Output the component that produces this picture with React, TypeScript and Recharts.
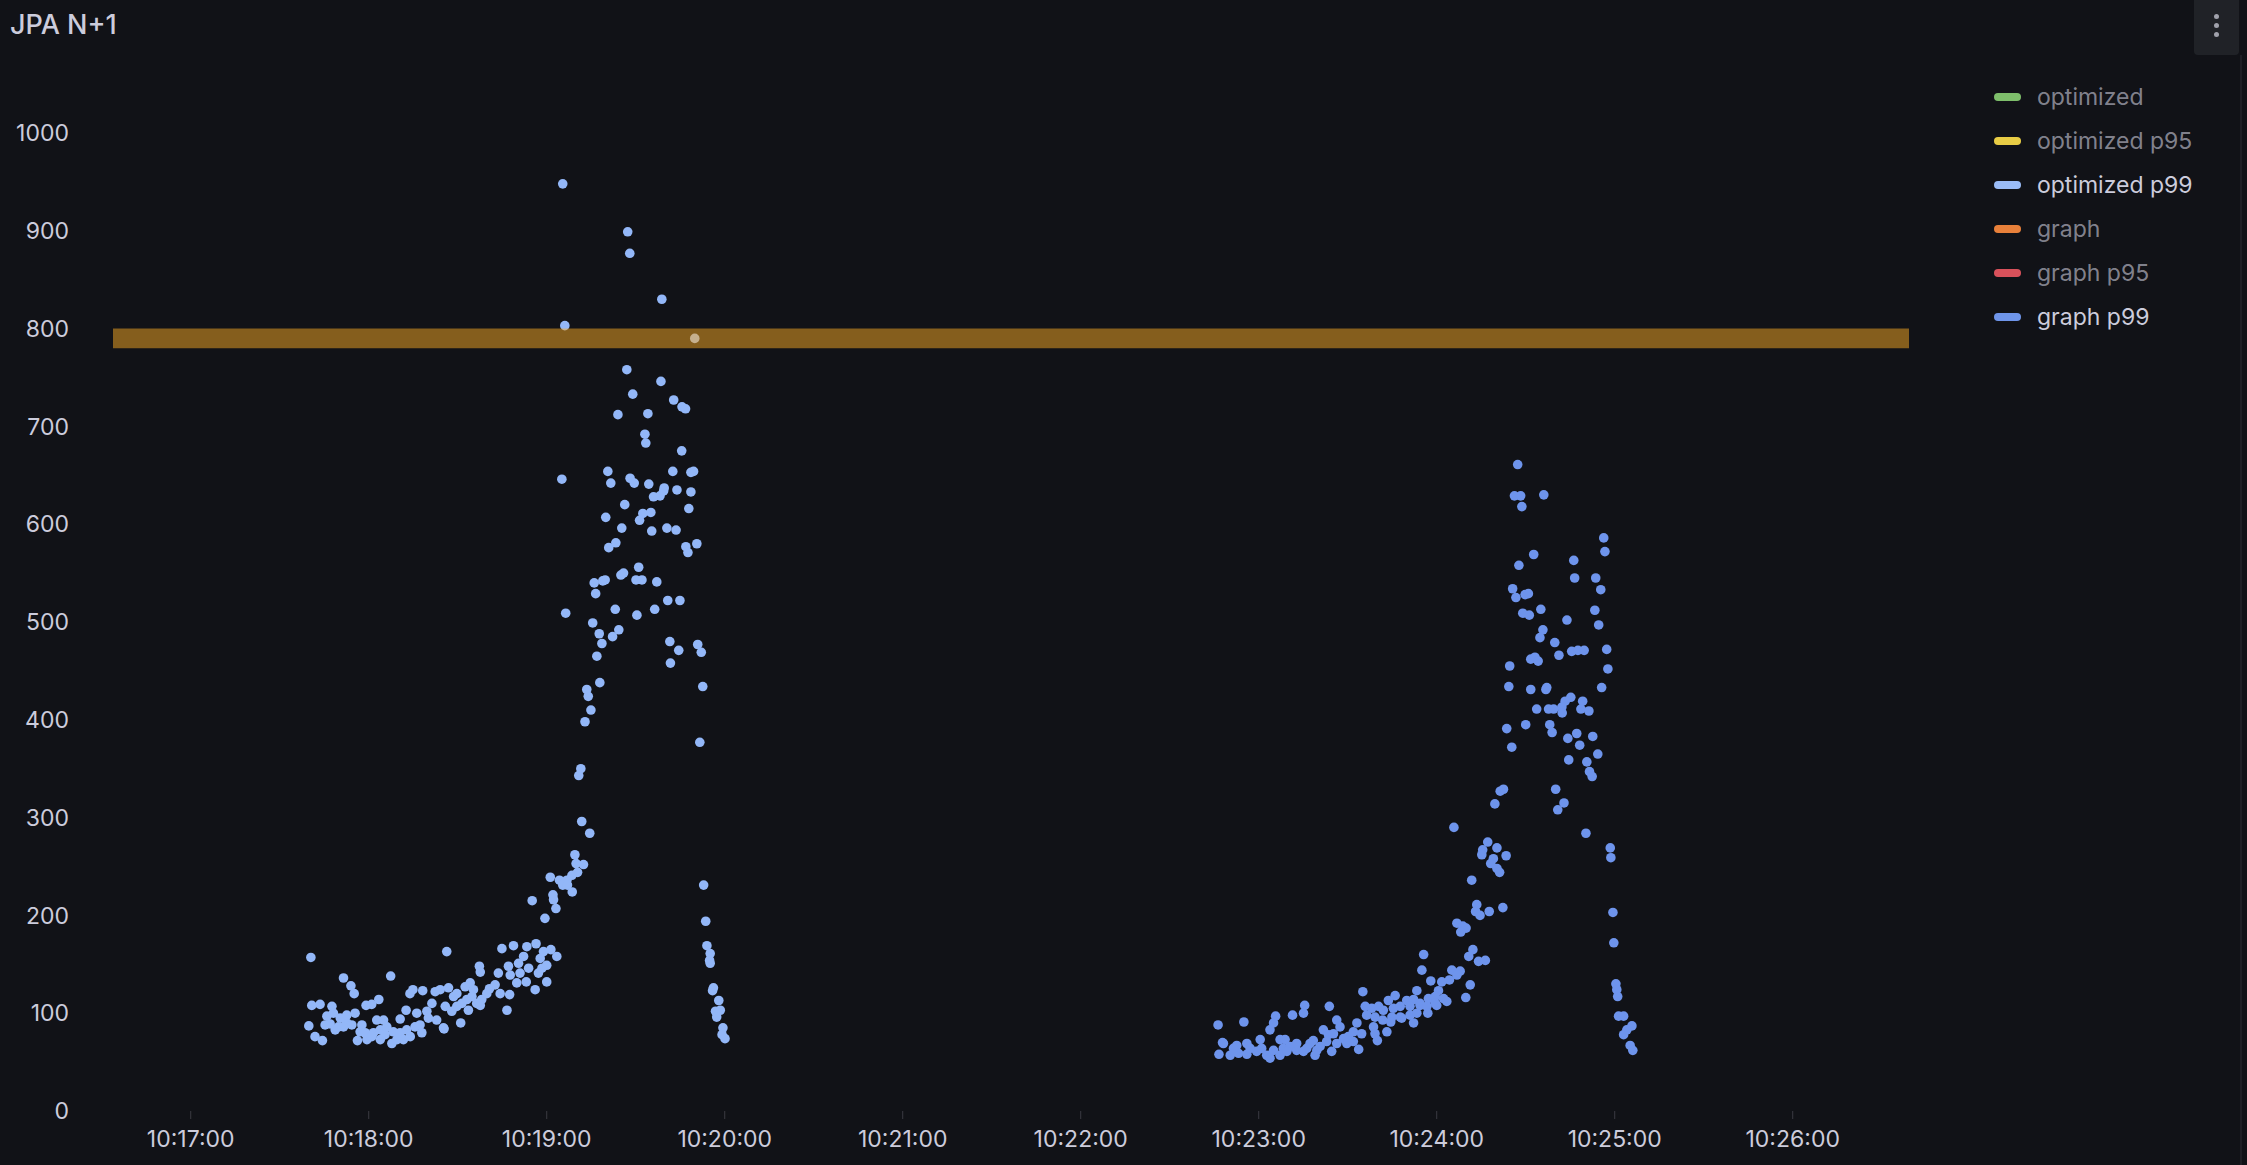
import React from 'react';
import { ScatterChart, Scatter, XAxis, YAxis, ReferenceArea } from 'recharts';

// ---------- data ----------
const TITLE = 'JPA N+1';
// x values are seconds after 10:17:00
const xTickSeconds = [0, 60, 120, 180, 240, 300, 360, 420, 480, 540];
const xTickLabels = ['10:17:00', '10:18:00', '10:19:00', '10:20:00', '10:21:00', '10:22:00', '10:23:00', '10:24:00', '10:25:00', '10:26:00'];
const xDomain = [-26.2, 579.2];
const yTicks = [0, 100, 200, 300, 400, 500, 600, 700, 800, 900, 1000];
const yDomain = [0, 1000];
const bandLow = 780;
const bandHigh = 800;

const legendNames = ['optimized', 'optimized p95', 'optimized p99', 'graph', 'graph p95', 'graph p99'];
const legendColors = ['#7EBE6B', '#E8CC45', '#9ABCF7', '#E8803A', '#D9515B', '#6F95EA'];
const legendVisible = [false, false, true, false, false, true];

const optimizedP99: [number, number][] = [
  [125.4, 948], [147.3, 899], [148.0, 877], [158.8, 830], [126.1, 803], [169.9, 790], [147.0, 758], [158.5, 746],
  [149.0, 733], [162.8, 727], [165.6, 720], [166.8, 718], [144.0, 712], [154.1, 713], [153.1, 692], [153.4, 683],
  [165.5, 675], [140.6, 654], [141.6, 642], [148.1, 647], [149.5, 642], [154.4, 641], [159.6, 637], [159.4, 634],
  [162.5, 654], [169.5, 654], [168.6, 653], [163.9, 635], [168.6, 633], [156.0, 628], [158.2, 629], [125.1, 646],
  [146.3, 620], [167.9, 616], [139.9, 607], [152.4, 611], [155.1, 612], [151.3, 604], [145.3, 596], [155.4, 593],
  [160.5, 596], [163.6, 594], [143.3, 581], [140.9, 576], [166.9, 577], [167.6, 571], [170.6, 580], [151.0, 556],
  [145.9, 550], [145.0, 548],
  [136.0, 540], [138.9, 542], [139.7, 543], [150.1, 543], [152.1, 543], [157.1, 541], [136.5, 529], [126.4, 509],
  [143.1, 513], [150.4, 507], [156.4, 513], [160.8, 522], [164.9, 522], [135.5, 499], [137.7, 488], [138.6, 478],
  [142.2, 485], [144.3, 492], [136.9, 465], [161.5, 480], [164.5, 471], [161.7, 458], [170.9, 477], [172.1, 469],
  [172.6, 434], [137.9, 438], [133.5, 431], [134.0, 424], [134.9, 410], [132.9, 398], [171.6, 377], [131.5, 350],
  [130.8, 343], [131.8, 296], [134.5, 284], [129.5, 262], [129.9, 253], [132.4, 252], [130.4, 244], [128.5, 241],
  [126.8, 236], [124.3, 236], [121.2, 239], [125.4, 231], [127.0, 231], [128.6, 224], [122.1, 221], [122.3, 216],
  [115.1, 215], [123.1, 207], [119.4, 197], [172.9, 231], [173.6, 194], [174.0, 169], [175.1, 161], [174.9, 154],
  [175.1, 151], [176.2, 126], [175.9, 123], [178.0, 113], [176.9, 102], [178.5, 103], [177.3, 96], [179.4, 85],
  [179.1, 78], [180.1, 74],
  [40.5, 157], [39.8, 87], [40.8, 108], [43.6, 109], [47.6, 107], [41.9, 76], [44.4, 72], [45.9, 97],
  [47.0, 89], [45.3, 88], [48.1, 100], [50.4, 95], [52.6, 90], [51.5, 136], [54.0, 128], [55.1, 120],
  [48.7, 83], [51.5, 86], [55.4, 100], [57.7, 88], [57.1, 81], [56.2, 72], [59.4, 73], [59.1, 108],
  [61.0, 109], [63.4, 114], [62.7, 93], [67.4, 138], [61.6, 80], [63.9, 83], [66.1, 86], [68.3, 81],
  [70.6, 80], [63.9, 73], [67.8, 69], [71.7, 73], [74.0, 76], [70.6, 94], [72.6, 103], [73.9, 120],
  [74.9, 124], [78.2, 123], [76.2, 100], [77.3, 88], [75.6, 86], [79.6, 102], [81.3, 110], [82.4, 122],
  [84.1, 124], [80.1, 95], [82.9, 93], [85.2, 85], [86.3, 163], [86.9, 126], [88.6, 117], [89.7, 120],
  [85.8, 107], [88.0, 102], [89.7, 107], [91.4, 110], [91.0, 90], [85.4, 84], [92.5, 127], [94.2, 131],
  [95.3, 124], [93.1, 114], [94.8, 117], [96.4, 110], [98.1, 114], [99.8, 120], [93.6, 103], [97.6, 108],
  [97.3, 148], [97.6, 142], [100.7, 125], [102.6, 129], [104.3, 120], [107.5, 119], [106.6, 103], [104.9, 166],
  [108.8, 169], [103.7, 141], [107.1, 148], [107.7, 139], [109.9, 131], [111.0, 141], [113.1, 132], [110.5, 151],
  [112.2, 158], [113.3, 168], [116.4, 171], [113.9, 146], [116.1, 124], [117.2, 141], [118.4, 146], [117.8, 156],
  [120.0, 149], [121.4, 165], [120.0, 132], [123.4, 158], [118.9, 163],
  [58.8, 80], [61.0, 76], [65.5, 78], [69.5, 73], [72.8, 83], [77.9, 80], [65.0, 93], [52.6, 98],
  [49.8, 86], [54.3, 88],
];

const graphP99: [number, number][] = [
  [447.3, 661], [446.2, 629], [448.3, 629], [456.1, 630], [448.7, 618], [476.3, 586], [476.7, 572], [452.7, 569],
  [447.7, 558], [466.2, 563], [466.5, 545], [473.6, 545], [475.3, 533], [445.6, 534], [446.7, 525], [449.8, 528],
  [450.9, 529], [449.0, 509], [451.2, 507], [455.1, 513], [463.9, 502], [473.3, 512], [474.6, 497], [455.8, 492],
  [454.8, 484], [459.8, 479], [461.2, 466], [465.5, 470], [467.6, 471], [469.7, 471], [477.3, 472], [451.7, 462],
  [453.1, 464], [454.2, 460], [444.6, 455], [477.7, 452], [444.3, 434], [451.7, 431], [456.8, 431], [457.1, 433],
  [475.6, 433], [465.2, 423], [463.3, 419], [462.2, 413], [469.2, 419], [453.7, 411], [457.7, 411], [459.4, 411],
  [462.3, 407], [468.6, 411], [471.3, 409], [443.6, 391], [450.0, 395], [458.1, 395], [458.9, 387], [464.2, 381],
  [467.2, 386], [472.6, 383], [468.2, 374], [445.3, 372], [474.3, 365],
  [464.5, 359], [470.6, 357], [471.5, 347], [472.4, 342], [442.5, 329], [441.4, 327], [439.6, 314], [460.1, 329],
  [462.9, 315], [460.8, 308], [425.8, 290], [470.3, 284], [437.2, 275], [440.3, 269], [443.4, 261], [435.5, 267],
  [435.2, 262], [439.1, 258], [438.2, 253], [440.3, 248], [441.2, 244], [478.5, 269], [478.7, 259], [431.8, 236],
  [433.5, 211], [433.1, 204], [434.6, 200], [437.7, 204], [442.3, 208], [479.4, 203], [426.8, 192], [428.8, 189],
  [429.9, 187], [428.1, 183], [479.7, 172], [415.6, 160], [432.2, 165], [430.8, 158], [434.1, 153], [436.4, 154],
  [415.0, 144], [425.1, 144], [427.9, 143], [426.8, 139], [424.3, 134], [421.7, 132], [431.3, 129], [429.8, 116],
  [418.0, 133], [413.3, 123], [420.6, 123], [480.4, 130], [480.7, 124], [481.0, 117], [481.3, 97], [483.0, 97],
  [485.8, 87], [484.1, 83], [483.0, 78], [485.2, 67], [486.1, 62],
  [395.1, 122], [406.0, 118], [403.7, 113], [409.9, 113], [412.2, 114], [414.4, 110], [417.2, 115], [419.5, 117],
  [422.3, 115], [423.4, 112], [395.9, 107], [398.1, 105], [400.4, 107], [402.0, 103], [405.4, 105], [407.7, 107],
  [411.0, 107], [414.4, 108], [416.7, 107], [419.5, 110], [396.4, 98], [399.2, 96], [401.8, 93], [404.9, 96],
  [407.7, 96], [411.0, 98], [413.3, 100], [417.0, 100], [420.0, 108], [404.5, 91], [408.2, 95], [412.2, 90],
  [398.7, 86], [399.2, 79], [400.0, 72], [403.2, 81], [393.7, 63], [393.1, 90], [394.7, 79], [391.9, 81],
  [390.2, 76], [388.6, 74], [386.3, 93], [387.4, 86], [383.8, 107], [381.8, 83], [383.5, 78], [385.2, 79],
  [384.6, 61], [386.3, 69], [389.7, 69], [391.9, 71], [375.5, 108], [375.1, 100], [371.4, 98], [365.7, 97],
  [365.0, 90], [363.8, 83], [355.0, 91], [346.3, 88], [347.8, 70], [348.1, 69], [346.6, 58], [350.4, 57],
  [352.6, 67], [356.0, 69], [360.5, 73], [353.2, 59], [356.0, 58], [359.3, 61], [362.7, 57], [363.8, 54],
  [367.2, 73], [368.9, 73], [368.3, 64], [370.6, 66], [372.8, 62], [375.1, 61], [377.3, 69], [378.4, 72],
  [379.6, 62], [380.7, 66], [379.0, 57], [367.2, 57], [357.1, 64], [361.0, 64], [365.0, 62], [369.5, 61],
  [372.8, 69], [376.2, 64], [382.9, 71], [351.5, 64],
];

// ---------- styling ----------
const BG = '#111217';
const TEXT = '#CCCCDC';
const TEXT_DIM = 'rgba(204,204,220,0.62)';
const FONT = 'Inter, "Noto Sans", sans-serif';
const POINT_COLORS = { optimized: '#93B7F8', graph: '#6E94EC' };

const toPoints = (arr: [number, number][]) => arr.map(([t, v]) => ({ t, v }));

const makeDot = (color: string) => (props: any) => {
  const { cx, cy } = props;
  if (cx == null || cy == null) return <g />;
  return <circle cx={cx} cy={cy} r={4.8} fill={color} />;
};

const fmtX = (v: number) => {
  const i = xTickSeconds.indexOf(v);
  return i >= 0 ? xTickLabels[i] : '';
};

export default function App() {
  return (
    <div style={{ position: 'absolute', left: 0, top: 0, width: 2247, height: 1165, background: BG, fontFamily: FONT, overflow: 'hidden' }}>
      <div style={{ position: 'absolute', left: 10, top: 11, fontSize: 27, lineHeight: '27px', fontWeight: 500, color: TEXT, whiteSpace: 'nowrap' }}>{TITLE}</div>

      {/* panel menu */}
      <div style={{ position: 'absolute', left: 2194, top: 0, width: 45, height: 55, background: '#202227', borderRadius: '0 0 4px 4px' }}>
        {[16, 25, 34].map((y) => (
          <div key={y} style={{ position: 'absolute', left: 20, top: y - 2.5, width: 5, height: 5, borderRadius: 3, background: '#A0A1AB' }} />
        ))}
      </div>
      <div style={{ position: 'absolute', left: 2240, top: 55, width: 2, height: 1110, background: '#1E1F25' }} />

      <div style={{ position: 'absolute', left: 0, top: 0 }}>
        <ScatterChart width={2247} height={1165} margin={{ top: 133, right: 338, bottom: 0, left: 0 }}>
          <XAxis
            dataKey="t"
            type="number"
            domain={xDomain}
            ticks={xTickSeconds}
            tickFormatter={fmtX}
            allowDataOverflow
            interval={0}
            axisLine={false}
            tickLine={{ stroke: 'rgba(204,204,220,0.22)' }}
            tickSize={8}
            tickMargin={12}
            height={54}
            tick={{ fill: TEXT, fontSize: 23, fontFamily: FONT }}
          />
          <YAxis
            dataKey="v"
            type="number"
            domain={yDomain}
            ticks={yTicks}
            allowDataOverflow
            interval={0}
            axisLine={false}
            tickLine={false}
            tickSize={0}
            tickMargin={44}
            width={113}
            tick={{ fill: TEXT, fontSize: 23, fontFamily: FONT }}
          />
          <Scatter name="optimized p99" data={toPoints(optimizedP99)} fill={POINT_COLORS.optimized} shape={makeDot(POINT_COLORS.optimized)} isAnimationActive={false} />
          <Scatter name="graph p99" data={toPoints(graphP99)} fill={POINT_COLORS.graph} shape={makeDot(POINT_COLORS.graph)} isAnimationActive={false} />
          <ReferenceArea y1={bandLow} y2={bandHigh} fill="#F9AA23" fillOpacity={0.5} stroke="none" ifOverflow="visible" zIndex={1000} />
        </ScatterChart>
      </div>

      {/* legend */}
      {legendNames.map((name, i) => (
        <div key={name} style={{ position: 'absolute', left: 1994, top: 97 + i * 44 - 15, height: 30, display: 'flex', alignItems: 'center', whiteSpace: 'nowrap' }}>
          <div style={{ width: 27, height: 8, borderRadius: 4, background: legendColors[i] }} />
          <div style={{ marginLeft: 16, fontSize: 23, color: legendVisible[i] ? TEXT : TEXT_DIM }}>{name}</div>
        </div>
      ))}
    </div>
  );
}
